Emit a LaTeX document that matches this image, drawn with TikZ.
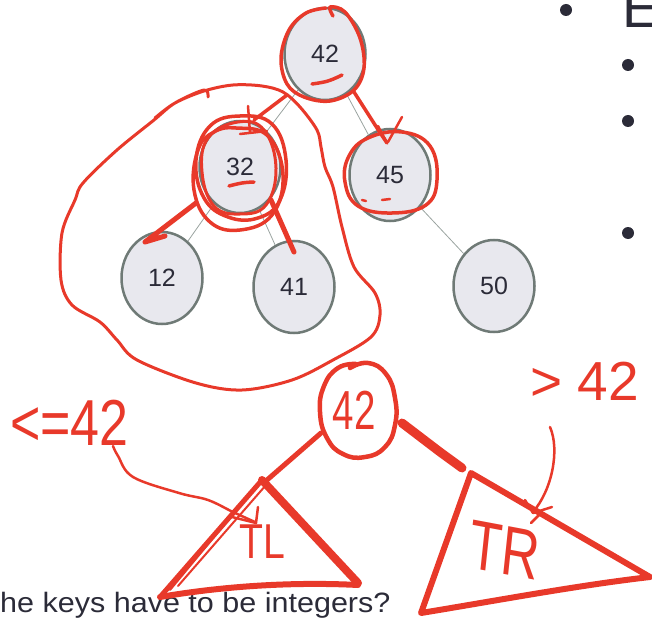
\documentclass[tikz,border=0pt]{standalone}
\usepackage{fontspec}
\setmainfont{Liberation Sans}
\usetikzlibrary{shapes.geometric}
\definecolor{ink}{HTML}{E8392A}
\definecolor{nodefill}{HTML}{E8E8EE}
\definecolor{nodeline}{HTML}{6F7A76}
\definecolor{edgeline}{HTML}{9AA3A0}
\definecolor{slidetext}{HTML}{2B2B38}
\begin{document}
\begin{tikzpicture}[x=1pt,y=-1pt,
  key/.style={ellipse, draw=nodeline, fill=nodefill, line width=2.5pt,
    minimum width=81pt, minimum height=92pt, inner sep=0pt,
    font=\fontsize{25}{25}\selectfont, text=slidetext},
  link/.style={draw=edgeline, line width=0.8pt},
  pen/.style={draw=ink, line width=3.5pt, line cap=round, line join=round},
  hand/.style={text=ink, inner sep=0pt},
  dot/.style={fill=slidetext}
]
\useasboundingbox (0,0) rectangle (652,620);

% slide bullets
\fill[dot] (566,10) circle (6);
\fill[dot] (628,65) circle (6);
\fill[dot] (628,121) circle (6);
\fill[dot] (628,233) circle (6);
\node[anchor=base west, inner sep=0pt, text=slidetext,
  font=\fontsize{56}{56}\selectfont] (head) at (622,28) {E};
\node[anchor=base west, inner sep=0pt, text=slidetext, xscale=1.09,
  font=\fontsize{28}{28}\selectfont] (question) at (0,612) {he keys have to be integers?};

% binary search tree
\node[key] (n42) at (325,54) {42};
\node[key] (n32) at (240,167) {32};
\node[key] (n45) at (390,175) {45};
\node[key] (n12) at (162,278) {12};
\node[key] (n41) at (294,287) {41};
\node[key] (n50) at (494,286) {50};
\draw[link] (n42) -- (n32);
\draw[link] (n42) -- (n45);
\draw[link] (n32) -- (n12);
\draw[link] (n32) -- (n41);
\draw[link] (n45) -- (n50);

% ink: circles on the tree
\draw[pen] plot[smooth, tension=0.6] coordinates {(333,16) (330,7) (345,12) (360,38) (364,68) (354,90) (330,101) (304,97) (287,84) (281,58) (289,30) (306,13) (326,8)};
\draw[pen] plot[smooth, tension=0.7] coordinates {(312,84) (328,81) (342,75)};
\draw[pen] plot[smooth cycle, tension=0.7] coordinates {(240,116) (272,124) (286,160) (280,200) (258,218) (228,217) (204,198) (196,160) (210,126)};
\draw[pen] plot[smooth cycle, tension=0.7] coordinates {(236,128) (268,136) (283,175) (272,215) (240,230) (210,222) (194,190) (198,150) (214,132)};
\draw[pen, line width=3pt] plot[smooth cycle, tension=0.7] coordinates {(238,122) (264,130) (276,168) (266,205) (240,214) (214,206) (202,172) (208,138)};
\draw[pen] plot[smooth, tension=0.7] coordinates {(229,186) (242,183) (254,182)};
\draw[pen] plot[smooth cycle, tension=0.7] coordinates {(368,138) (402,132) (430,146) (437,180) (426,205) (392,213) (358,206) (345,182) (349,156)};
\draw[pen, line width=2.5pt] (362,200) -- (366,201) (382,200) -- (390,199);

% ink: strokes along the edges
\draw[pen] (287,95) -- (254,120);
\draw[pen, line width=2.5pt] (248,106) -- (250,133) (240,134) -- (267,131);
\draw[pen] (354,92) -- (377,128) -- (387,143);
\draw[pen, line width=2.5pt] (402,117) -- (388,142) (378,126) -- (387,143);
\draw[pen, line width=5pt] (196,203) -- (145,242) -- (165,236);
\draw[pen, line width=5pt] (271,200) -- (294,252);

% ink: loop around the left subtree
\draw[pen, line width=3pt] plot[smooth, tension=0.55] coordinates {(208,97) (204,90) (175,103) (154,120) (117,150) (83,183) (75,200) (62,233) (61,280) (72,305) (100,322) (117,340) (137,360) (196,383) (242,390) (292,380) (333,360) (371,337) (380,315) (375,293) (354,267) (342,227) (333,187) (325,167) (321,147) (317,130) (300,107) (283,92) (262,86) (233,85) (204,91) (175,103) (155,118)};

% ink: the rule sketched below
\draw[pen, line width=4.5pt] plot[smooth, tension=0.8] coordinates {(350,368) (368,363) (386,374) (395,398) (395,425) (385,447) (365,457) (343,454) (327,438) (320,412) (324,386) (338,368) (356,364)};
\node[hand, xscale=0.7, font=\fontsize{55}{55}\selectfont] (root) at (354,410) {42};
\draw[pen, line width=5pt] (321,433) -- (267,480);
\draw[pen, line width=9pt] (402,423) -- (440,452) -- (462,468);
\draw[pen, line width=5pt] (262,480) -- (160,597);
\draw[pen, line width=2pt] (258,484) -- (170,590) (266,485) -- (178,586);
\draw[pen, line width=8pt] (262,480) -- (358,583);
\draw[pen, line width=6pt] (160,597) .. controls (230,585) and (300,582) .. (358,585);
\draw[pen, line width=6pt] (471,473) -- (421,613) .. controls (500,600) and (580,585) .. (650,577) -- cycle;
\node[hand, xscale=0.8, font=\fontsize{49}{49}\selectfont] (tl) at (262,542) {TL};
\node[hand, xscale=0.75, rotate=-8, font=\fontsize{70}{70}\selectfont] (tr) at (505,550) {TR};
\node[hand, xscale=0.8, font=\fontsize{65}{65}\selectfont, anchor=base west] (le) at (10,445) {<=42};
\node[hand, font=\fontsize{55}{55}\selectfont, anchor=base west] (gt) at (530,400) {> 42};

% ink: arrows from the bounds to the subtrees
\draw[pen, line width=2.5pt] plot[smooth, tension=0.6] coordinates {(113,446) (118,456) (133,477) (179,493) (208,500) (233,512) (255,522)};
\draw[pen, line width=2.5pt] (258,507) -- (256,523) -- (232,517);
\draw[pen, line width=2.5pt] (550,427) .. controls (560,450) and (552,490) .. (533,512);
\draw[pen, line width=2.5pt] (525,500) -- (533,513) -- (552,507) (542,512) -- (531,523);
\end{tikzpicture}
\end{document}
